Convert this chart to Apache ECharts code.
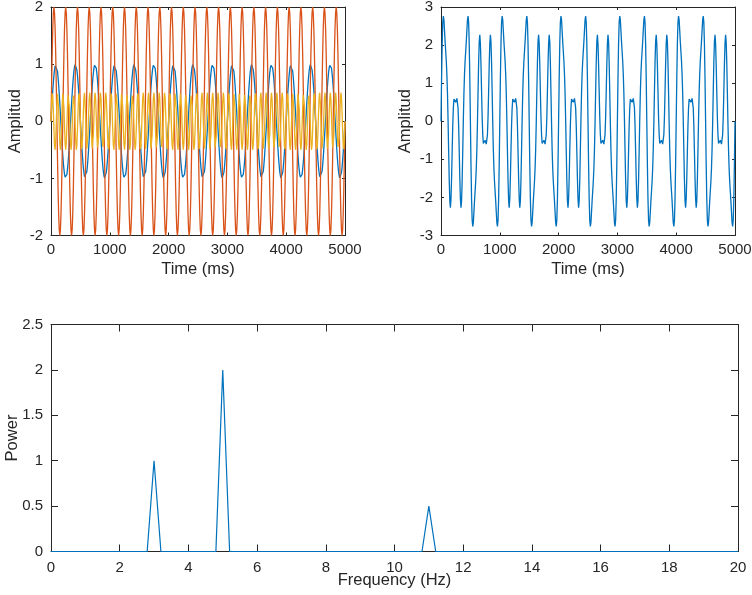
<!DOCTYPE html>
<html>
<head>
<meta charset="utf-8">
<script src="https://cdn.jsdelivr.net/npm/echarts@6/dist/echarts.min.js"></script>
<style>html,body{margin:0;padding:0;background:#fff}#c{width:752px;height:595px}</style>
</head>
<body>
<div id="c"></div>
<script>
// ---- data ----
// sampling step of the time signals (ms) and total duration (ms)
const timeStepMs = 10;
const durationMs = 5000;
// one second (100 samples) of the 3 Hz component, amplitude 1
const blueOneSecond = [
  0,.19,.37,.54,.68,.81,.90,.97,1.00,.99,
  .95,.88,.77,.64,.48,.31,.13,-.06,-.25,-.43,
  -.59,-.73,-.84,-.93,-.98,-1,-.98,-.93,-.84,-.73,
  -.59,-.43,-.25,-.06,.13,.31,.48,.64,.77,.88,
  .95,.99,1.00,.97,.90,.81,.68,.54,.37,.19,
  0,-.19,-.37,-.54,-.68,-.81,-.90,-.97,-1.00,-.99,
  -.95,-.88,-.77,-.64,-.48,-.31,-.13,.06,.25,.43,
  .59,.73,.84,.93,.98,1,.98,.93,.84,.73,
  .59,.43,.25,.06,-.13,-.31,-.48,-.64,-.77,-.88,
  -.95,-.99,-1.00,-.97,-.90,-.81,-.68,-.54,-.37,-.19
];
// one cycle (200 ms, 20 samples) of the 5 Hz component, amplitude 2
const orangeOneCycle = [0,.62,1.18,1.62,1.90,2,1.90,1.62,1.18,.62,0,-.62,-1.18,-1.62,-1.90,-2,-1.90,-1.62,-1.18,-.62];
// one second (100 samples) of the 11 Hz component, amplitude 0.5
const yellowOneSecond = [
  0,.32,.49,.44,.18,-.15,-.42,-.50,-.34,-.03,
  .29,.48,.45,.21,-.12,-.40,-.50,-.36,-.06,.27,
  .48,.46,.24,-.09,-.39,-.50,-.39,-.09,.24,.46,
  .48,.27,-.06,-.36,-.50,-.40,-.12,.21,.45,.48,
  .29,-.03,-.34,-.50,-.42,-.15,.18,.44,.49,.32,
  0,-.32,-.49,-.44,-.18,.15,.42,.50,.34,.03,
  -.29,-.48,-.45,-.21,.12,.40,.50,.36,.06,-.27,
  -.48,-.46,-.24,.09,.39,.50,.39,.09,-.24,-.46,
  -.48,-.27,.06,.36,.50,.40,.12,-.21,-.45,-.48,
  -.29,.03,.34,.50,.42,.15,-.18,-.44,-.49,-.32
];
// one second (100 samples) of the summed signal
const sumOneSecond = [
  0,1.13,2.04,2.60,2.76,2.66,2.38,2.09,1.84,1.58,
  1.24,.74,.04,-.77,-1.54,-2.09,-2.27,-2.04,-1.49,-.78,
  -.11,.35,.58,.60,.53,.50,.53,.60,.58,.35,
  -.11,-.78,-1.49,-2.04,-2.27,-2.09,-1.54,-.77,.04,.74,
  1.24,1.58,1.84,2.09,2.38,2.66,2.76,2.60,2.04,1.13,
  0,-1.13,-2.04,-2.60,-2.76,-2.66,-2.38,-2.09,-1.84,-1.58,
  -1.24,-.74,-.04,.77,1.54,2.09,2.27,2.04,1.49,.78,
  .11,-.35,-.58,-.60,-.53,-.50,-.53,-.60,-.58,-.35,
  .11,.78,1.49,2.04,2.27,2.09,1.54,.77,-.04,-.74,
  -1.24,-1.58,-1.84,-2.09,-2.38,-2.66,-2.76,-2.60,-2.04,-1.13
];
// spectrum: frequency resolution (Hz) and power per bin, 0..20 Hz
const freqStepHz = 0.2;
const powerValues = [
  0,0,0,0,0,0,0,0,0,0,
  0,0,0,0,0,1,0,0,0,0,
  0,0,0,0,0,2,0,0,0,0,
  0,0,0,0,0,0,0,0,0,0,
  0,0,0,0,0,0,0,0,0,0,
  0,0,0,0,0,0.5,0,0,0,0,
  0,0,0,0,0,0,0,0,0,0,
  0,0,0,0,0,0,0,0,0,0,
  0,0,0,0,0,0,0,0,0,0,
  0,0,0,0,0,0,0,0,0,0,
  0
];
const axisTitles = {time: 'Time (ms)', amp: 'Amplitud', freq: 'Frequency (Hz)', power: 'Power'};

// ---- build series data (periodic signals repeated over the 5 s) ----
function tile(period) {
  const out = [];
  const n = durationMs / timeStepMs;
  for (let i = 0; i <= n; i++) out.push([i * timeStepMs, period[i % period.length]]);
  return out;
}
const blueData = tile(blueOneSecond);
const orangeData = tile(orangeOneCycle);
const yellowData = tile(yellowOneSecond);
const sumData = tile(sumOneSecond);
const specData = powerValues.map((p, i) => [+(i * freqStepHz).toFixed(1), p]);

// ---- styling ----
const FONT = '"Liberation Sans", Arial, Helvetica, sans-serif';
const INK = '#262626';
const TICK_FS = 15;
const NAME_FS = 16.5;

const grids = [
  {left: 51, top: 7, width: 294, height: 228.5, containLabel: false, outerBoundsMode: 'none'},
  {left: 441, top: 7, width: 294, height: 228.5, containLabel: false, outerBoundsMode: 'none'},
  {left: 51, top: 324.5, width: 687, height: 227, containLabel: false, outerBoundsMode: 'none'}
];
const plain = v => String(v);
const xAxes = [], yAxes = [];
function addBox(g, xr, yr, tickLen, xName, yName, xNameGap, yNameGap, xMargin, xFormatter) {
  const line = {show: true, onZero: false, lineStyle: {color: INK, width: 1}};
  const tick = {show: true, inside: true, length: tickLen, lineStyle: {color: INK, width: 1}};
  const lab = {color: INK, fontSize: TICK_FS, fontFamily: FONT};
  const nameStyle = {color: INK, fontSize: NAME_FS, fontFamily: FONT};
  const xLab = Object.assign({margin: xMargin, hideOverlap: false}, lab);
  if (xFormatter) xLab.formatter = xFormatter;
  xAxes.push({type: 'value', gridIndex: g, position: 'bottom', min: xr[0], max: xr[1], interval: xr[2],
    axisLine: line, axisTick: tick, splitLine: {show: false},
    axisLabel: xLab,
    name: xName, nameLocation: 'middle', nameGap: xNameGap, nameMoveOverlap: false,
    nameTextStyle: nameStyle});
  xAxes.push({type: 'value', gridIndex: g, position: 'top', min: xr[0], max: xr[1], interval: xr[2],
    axisLine: line, axisTick: tick, splitLine: {show: false}, axisLabel: {show: false}});
  yAxes.push({type: 'value', gridIndex: g, position: 'left', min: yr[0], max: yr[1], interval: yr[2],
    axisLine: line, axisTick: tick, splitLine: {show: false},
    axisLabel: Object.assign({margin: 8}, lab),
    name: yName, nameLocation: 'middle', nameGap: yNameGap, nameMoveOverlap: false, nameTextStyle: nameStyle});
  yAxes.push({type: 'value', gridIndex: g, position: 'right', min: yr[0], max: yr[1], interval: yr[2],
    axisLine: line, axisTick: tick, splitLine: {show: false}, axisLabel: {show: false}});
}
addBox(0, [0, 5000, 1000], [-2, 2, 1], 3, axisTitles.time, axisTitles.amp, 25, 27, 7, plain);
addBox(1, [0, 5000, 1000], [-3, 3, 1], 3, axisTitles.time, axisTitles.amp, 25, 27, 7, plain);
// the frequency axis title is drawn as a title component (below)
addBox(2, [0, 20, 2], [0, 2.5, 0.5], 7, '', axisTitles.power, 20, 30, 9, null);

function lineSeries(data, g, color, width) {
  return {type: 'line', data: data, xAxisIndex: 2 * g, yAxisIndex: 2 * g, showSymbol: false,
    symbol: 'none', clip: false, lineStyle: {color: color, width: width}, itemStyle: {color: color}, z: 5};
}

const chart = echarts.init(document.getElementById('c'), null, {renderer: 'canvas'});
chart.setOption({
  animation: false,
  backgroundColor: '#ffffff',
  textStyle: {fontFamily: FONT},
  title: {
    text: axisTitles.freq, left: 394.5, top: 572, textAlign: 'center', padding: 0,
    textStyle: {color: INK, fontSize: NAME_FS, fontWeight: 'normal', fontFamily: FONT}
  },
  grid: grids,
  xAxis: xAxes,
  yAxis: yAxes,
  series: [
    lineSeries(blueData, 0, '#0072BD', 1.3),
    lineSeries(orangeData, 0, '#D95319', 1.3),
    lineSeries(yellowData, 0, '#EDB120', 1.3),
    lineSeries(sumData, 1, '#0072BD', 1.3),
    lineSeries(specData, 2, '#0072BD', 1.2)
  ]
});
</script>
</body>
</html>
